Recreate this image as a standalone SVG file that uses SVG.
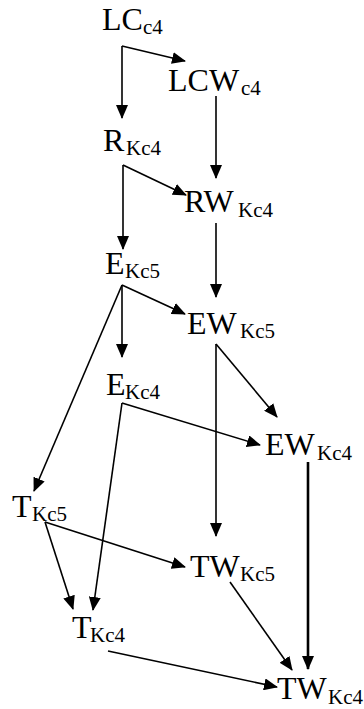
<svg xmlns="http://www.w3.org/2000/svg" width="364" height="709" viewBox="0 0 364 709">
<style>
.m{font-family:"Liberation Serif","Times New Roman",serif;font-size:32px;fill:#000}
.s{font-family:"Liberation Serif","Times New Roman",serif;font-size:21px;fill:#000}
.c line{stroke:#000;stroke-width:1.6;marker-end:url(#ah)}
</style>
<defs>
<marker id="ah" viewBox="0 0 14 12" refX="13" refY="6" markerWidth="14" markerHeight="12" markerUnits="userSpaceOnUse" orient="auto">
<path d="M0,0 L14,6 L0,12 z" fill="#000"/>
</marker>
</defs>
<rect width="364" height="709" fill="#fff"/>
<g class="c" id="connectors">
<line x1="122" y1="46" x2="122" y2="118"/>
<line x1="122" y1="46" x2="185" y2="61"/>
<line x1="216" y1="96" x2="216" y2="178"/>
<line x1="123" y1="165" x2="186" y2="195"/>
<line x1="123" y1="165" x2="123" y2="249"/>
<line x1="216" y1="223" x2="216" y2="297"/>
<line x1="122" y1="285" x2="185" y2="314"/>
<line x1="122" y1="285" x2="122" y2="357"/>
<line x1="122" y1="285" x2="34" y2="491"/>
<line x1="216" y1="344" x2="216" y2="536"/>
<line x1="216" y1="344" x2="277" y2="417"/>
<line x1="122" y1="403" x2="260" y2="445"/>
<line x1="122" y1="403" x2="93" y2="610"/>
<line x1="308" y1="462" x2="308" y2="669" style="stroke-width:2.6"/>
<line x1="45" y1="522" x2="185" y2="567"/>
<line x1="45" y1="522" x2="73" y2="609"/>
<line x1="230" y1="582" x2="292" y2="670"/>
<line x1="108" y1="651" x2="277" y2="687"/>
</g>
<g id="LC_c4"><text class="m" x="102" y="30">LC</text><text class="s" x="143" y="34">c4</text></g>
<g id="LCW_c4"><text class="m" x="168" y="91">LCW</text><text class="s" x="241" y="95">c4</text></g>
<g id="R_Kc4"><text class="m" x="103" y="151">R</text><text class="s" x="126" y="155">Kc4</text></g>
<g id="RW_Kc4"><text class="m" x="184" y="212">RW</text><text class="s" x="238" y="217">Kc4</text></g>
<g id="E_Kc5"><text class="m" x="105" y="274">E</text><text class="s" x="125" y="278">Kc5</text></g>
<g id="EW_Kc5"><text class="m" x="187" y="334">EW</text><text class="s" x="240" y="338">Kc5</text></g>
<g id="E_Kc4"><text class="m" x="106" y="395">E</text><text class="s" x="125" y="399">Kc4</text></g>
<g id="EW_Kc4"><text class="m" x="265" y="455">EW</text><text class="s" x="317" y="460">Kc4</text></g>
<g id="T_Kc5"><text class="m" x="12" y="517">T</text><text class="s" x="32" y="521">Kc5</text></g>
<g id="TW_Kc5"><text class="m" x="190" y="577">TW</text><text class="s" x="240" y="581">Kc5</text></g>
<g id="T_Kc4"><text class="m" x="72" y="638">T</text><text class="s" x="90" y="642">Kc4</text></g>
<g id="TW_Kc4"><text class="m" x="277" y="699">TW</text><text class="s" x="328" y="704">Kc4</text></g>
</svg>
